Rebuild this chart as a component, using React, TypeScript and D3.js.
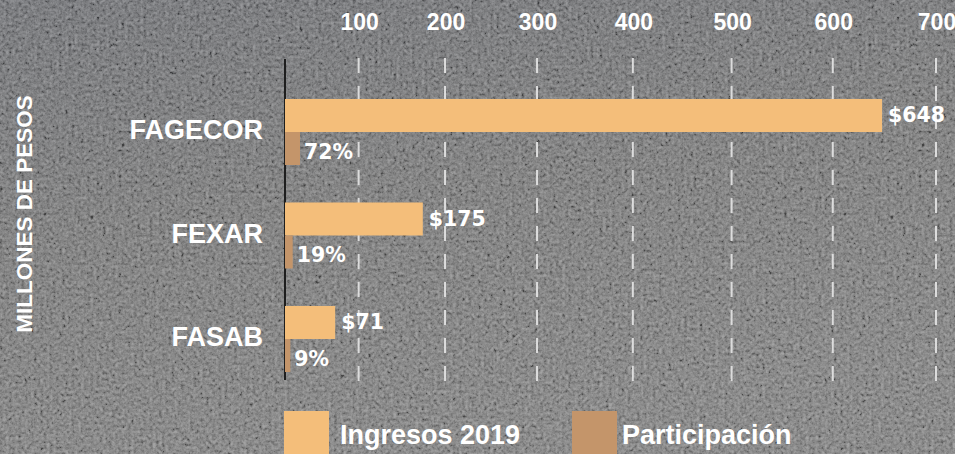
import React from "react";
import * as d3 from "d3";

const categories = ["FAGECOR", "FEXAR", "FASAB"];
const ingresos = [648, 175, 71];
const participacion = [72, 19, 9];
const tickValues = [100, 200, 300, 400, 500, 600, 700];
const seriesNames = ["Ingresos 2019", "Participación"];
const yTitle = "MILLONES DE PESOS";

const W = 955;
const H = 454;
const AXIS_X = 285;
const COLORS = ["#F4BE7A", "#C4956A"];
const FONT = "'Liberation Sans', Arial, sans-serif";
const VFONT = "'DejaVu Sans', Verdana, sans-serif";

export default function App() {
  const x = d3.scalePow().exponent(1.12).domain([0, 700]).range([AXIS_X, 936]);
  const p = d3.scaleSqrt().domain([0, 100]).range([AXIS_X, 302.7]);
  const y = d3
    .scaleBand<string>()
    .domain(categories)
    .range([80.25, 390.75])
    .paddingInner(0.362)
    .paddingOuter(0.181);
  const sub = d3
    .scaleBand<string>()
    .domain(["ing", "par"])
    .range([0, y.bandwidth()]);
  const bh = sub.bandwidth();

  return (
    <svg
      width={W}
      height={H}
      style={{ position: "fixed", left: 0, top: 0, display: "block" }}
    >
      <defs>
        <linearGradient id="bg" x1="0" y1="0" x2="0.3" y2="1">
          <stop offset="0" stopColor="#5a5c61" />
          <stop offset="0.5" stopColor="#676767" />
          <stop offset="1" stopColor="#717171" />
        </linearGradient>
        <filter id="grain" x="0" y="0" width="100%" height="100%">
          <feTurbulence
            type="fractalNoise"
            baseFrequency="0.32"
            numOctaves="3"
            seed="11"
            result="t"
          />
          <feColorMatrix
            in="t"
            type="matrix"
            values="0.8 0.8 0.8 0 -0.7  0.8 0.8 0.8 0 -0.7  0.8 0.8 0.8 0 -0.7  0 0 0 0 1"
          />
        </filter>
      </defs>
      <rect x={0} y={0} width={W} height={H} fill="url(#bg)" />
      <rect
        x={0}
        y={0}
        width={W}
        height={H}
        filter="url(#grain)"
        opacity={0.36}
      />

      {/* gridlines */}
      {tickValues.map((t) => (
        <line
          key={"g" + t}
          x1={x(t)}
          x2={x(t)}
          y1={58}
          y2={392}
          stroke="#dcdcdc"
          strokeWidth={2}
          strokeDasharray="15 13"
        />
      ))}

      {/* tick labels */}
      {tickValues.map((t) => (
        <text
          key={"t" + t}
          x={x(t) + 1}
          y={30}
          textAnchor="middle"
          fill="#ffffff"
          fontFamily={FONT}
          fontWeight="bold"
          fontSize={23}
        >
          {t}
        </text>
      ))}

      {/* axis line */}
      <line
        x1={AXIS_X}
        x2={AXIS_X}
        y1={59}
        y2={380}
        stroke="#1e1e1e"
        strokeWidth={2}
      />

      {/* bars */}
      {categories.map((c, i) => {
        const y0 = y(c) as number;
        const yi = y0 + (sub("ing") as number);
        const yp = y0 + (sub("par") as number);
        const xi = x(ingresos[i]);
        const xp = p(participacion[i]);
        return (
          <g key={c}>
            <rect
              x={AXIS_X}
              y={yi}
              width={xi - AXIS_X}
              height={bh}
              fill={COLORS[0]}
            />
            <rect
              x={AXIS_X}
              y={yp}
              width={xp - AXIS_X}
              height={bh}
              fill={COLORS[1]}
            />
            <text
              x={xi + 6}
              y={yi + bh / 2 + 7}
              fill="#ffffff"
              fontFamily={VFONT}
              fontWeight="bold"
              fontSize={20.5}
            >
              {"$" + ingresos[i]}
            </text>
            <text
              x={xp + 4}
              y={yp + bh / 2 + 10}
              fill="#ffffff"
              fontFamily={VFONT}
              fontWeight="bold"
              fontSize={20.5}
            >
              {participacion[i] + "%"}
            </text>
            <text
              x={263}
              y={y0 + y.bandwidth() / 2 + 7}
              textAnchor="end"
              fill="#ffffff"
              fontFamily={FONT}
              fontWeight="bold"
              fontSize={27}
            >
              {c}
            </text>
          </g>
        );
      })}

      {/* y title */}
      <text
        transform={`translate(32,214) rotate(-90)`}
        textAnchor="middle"
        fill="#ffffff"
        fontFamily={FONT}
        fontWeight="bold"
        fontSize={22.5}
      >
        {yTitle}
      </text>

      {/* legend */}
      {seriesNames.map((s, i) => {
        const lx = i === 0 ? 284 : 572;
        return (
          <g key={s}>
            <rect x={lx} y={411} width={45} height={45} fill={COLORS[i]} />
            <text
              x={lx + 56 - i * 6}
              y={444}
              fill="#ffffff"
              fontFamily={FONT}
              fontWeight="bold"
              fontSize={27}
            >
              {s}
            </text>
          </g>
        );
      })}
    </svg>
  );
}
